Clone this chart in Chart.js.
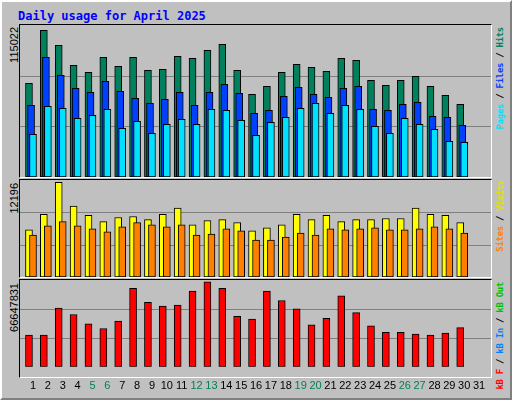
<!DOCTYPE html>
<html>
<head>
<meta charset="utf-8">
<script src="https://cdn.jsdelivr.net/npm/chart.js@4"></script>
<style>
  body { margin: 0; background: #fff; }
  #page { position: absolute; left: 0; top: 0; width: 508px; height: 396px; background: #C0C0C0;
          border: 2px solid; border-color: #fff #808080 #808080 #fff; }
  .panel { position: absolute; background: #C0C0C0; border: 1px solid; border-color: #000 #fff #fff #000; }
  canvas { position: absolute; }
  .rot { position: absolute; transform-origin: top left; transform: rotate(-90deg) translateX(-100%); white-space: nowrap; }
  .num { font: 11px "Liberation Sans", sans-serif; color: #000; }
  .leg { font: bold 9px "DejaVu Sans Mono", monospace; color: #000; letter-spacing: -0.3px; }
  #title { position: absolute; left: 16px; top: 7px; font: bold 12px "DejaVu Sans Mono", monospace; color: #0000FF; }
</style>
</head>
<body>
<div id="page">
  <div id="title">Daily usage for April 2025</div>
</div>
<div class="panel" style="left:19px;top:24px;width:471px;height:152px"></div>
<div class="panel" style="left:19px;top:179px;width:471px;height:97px"></div>
<div class="panel" style="left:19px;top:279px;width:471px;height:97px"></div>
<canvas id="c1" style="left:20px;top:25px;width:471px;height:152px"></canvas>
<canvas id="c2" style="left:20px;top:180px;width:471px;height:97px"></canvas>
<canvas id="c3" style="left:20px;top:280px;width:471px;height:118px"></canvas>

<div class="rot num" style="left:8px;top:27px">115022</div>
<div class="rot num" style="left:8px;top:183px">12196</div>
<div class="rot num" style="left:8px;top:283px">66647831</div>

<div class="rot leg" style="left:495px;top:27px"><span style="color:#00E0FF">Pages</span> / <span style="color:#0040FF">Files</span> / <span style="color:#00805C">Hits</span></div>
<div class="rot leg" style="left:495px;top:180px"><span style="color:#FF8000">Sites</span> / <span style="color:#E0E000">Visits</span></div>
<div class="rot leg" style="left:495px;top:282px"><span style="color:#FF0000">kB F</span> / <span style="color:#0080FF">kB In</span> / <span style="color:#00C000">kB Out</span></div>

<script>
const days = [1,2,3,4,5,6,7,8,9,10,11,12,13,14,15,16,17,18,19,20,21,22,23,24,25,26,27,28,29,30];
const allDays = [1,2,3,4,5,6,7,8,9,10,11,12,13,14,15,16,17,18,19,20,21,22,23,24,25,26,27,28,29,30,31];
const weekendDays = [5,6,12,13,19,20,26,27];

const hits = [70870,110970,99620,84490,79190,90540,83730,90540,80700,81460,91300,89780,95840,100380,80700,
              62550,68600,79190,85240,82970,79950,89780,88270,73140,69360,73140,76160,68600,61790,54980];
const files = [54220,90540,76920,67090,64060,72380,64820,59520,55740,58760,64060,54220,64060,70110,63300,
               48170,50440,61030,67840,62550,60280,67090,68600,51200,50440,54980,56490,45900,45140,39090];
const pages = [32280,53470,51950,44390,46660,51200,36820,42120,33040,39850,43630,39850,51200,50440,42870,
               31530,41360,45140,51950,55740,48170,54220,51200,38330,33040,44390,39850,36060,26990,26230];
const visits = [5925,7872,11894,8910,7742,6963,7482,7612,7223,7872,8650,6574,7093,7223,6834,
                5796,6185,6574,7872,7223,7742,6963,7223,7223,7353,7353,8650,7872,7742,6834];
const sites = [5277,6444,6963,6444,6055,5666,6315,6834,6574,6315,6574,5277,5406,6055,5796,
               4628,4628,5017,5536,5277,6055,5925,6055,6185,5925,5925,6055,6315,6055,5536];
const kbytes = [24370000,24370000,45150000,40130000,32970000,29380000,35120000,60200000,49450000,46580000,
                47300000,58050000,65210000,60200000,38700000,36550000,58050000,50880000,44430000,32250000,
                37270000,54460000,41570000,31530000,26520000,26520000,25080000,24370000,25800000,30100000];
const maxHits = 115022, maxVisits = 12196, maxKB = 66647831;

const xMin = 0.126, xMax = 31.8;
const shift = 0.27, shift2 = 0.13;

const midGrid = {
  id: 'midGrid',
  beforeDatasetsDraw(chart) {
    const y = chart.scales.y, a = chart.chartArea, ctx = chart.ctx;
    ctx.save();
    ctx.strokeStyle = '#808080';
    ctx.lineWidth = 1;
    [1, 2].forEach(k => {
      const py = Math.round(y.getPixelForValue(y.max * k / 3)) + 0.5;
      ctx.beginPath(); ctx.moveTo(a.left, py); ctx.lineTo(a.right, py); ctx.stroke();
    });
    ctx.restore();
  }
};

// order: lower numbers are drawn on top
function ds(values, off, color, order) {
  return {
    data: values.map((v, i) => ({ x: days[i] + off, y: v })),
    backgroundColor: color, borderColor: '#000', borderWidth: 1,
    barThickness: 7, grouped: false, borderSkipped: false, order: order
  };
}

function makeChart(id, datasets, max, showX) {
  return new Chart(document.getElementById(id), {
    type: 'bar',
    data: { datasets },
    plugins: [midGrid],
    options: {
      responsive: false, animation: false, maintainAspectRatio: false,
      layout: { padding: 0 },
      plugins: { legend: { display: false }, tooltip: { enabled: false } },
      scales: {
        x: {
          type: 'linear', min: xMin, max: xMax, display: showX, offset: false,
          grid: { display: false }, border: { display: false },
          afterBuildTicks: s => { s.ticks = allDays.map(d => ({ value: d })); },
          ticks: {
            autoSkip: false, maxRotation: 0, padding: 5,
            font: { family: 'Liberation Sans', size: 11 },
            color: c => weekendDays.includes(c.tick.value) ? '#00805C' : '#000'
          }
        },
        y: { min: 0, max: max, display: false }
      }
    }
  });
}

function sizeCanvas(id, w, h) {
  const c = document.getElementById(id);
  c.width = w; c.height = h;
}
sizeCanvas('c1', 471, 152); sizeCanvas('c2', 471, 97); sizeCanvas('c3', 471, 118);

makeChart('c1', [
  ds(hits, -shift, '#00805C', 3),
  ds(files, -shift2, '#0040FF', 2),
  ds(pages, 0, '#00E0FF', 1)
], maxHits, false);

makeChart('c2', [
  ds(visits, -shift, '#FFFF00', 2),
  ds(sites, 0, '#FF8000', 1)
], maxVisits, false);

makeChart('c3', [
  ds(kbytes, -shift, '#FF0000', 1)
], maxKB, true);
</script>
</body>
</html>
